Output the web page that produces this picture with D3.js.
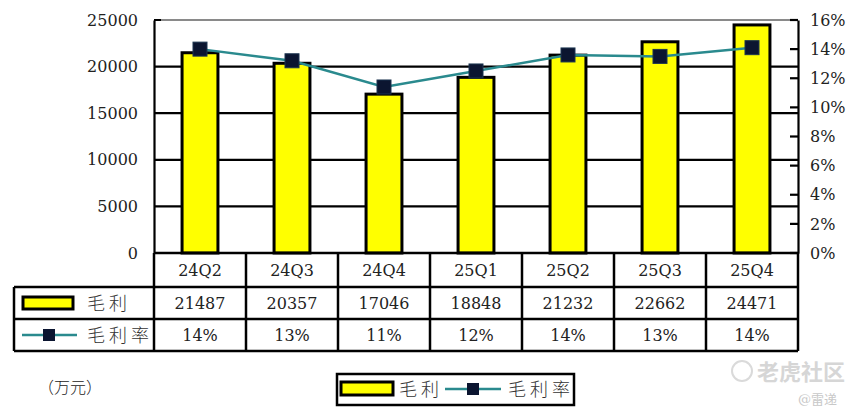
<!DOCTYPE html>
<html><head><meta charset="utf-8">
<script src="https://cdn.jsdelivr.net/npm/d3@7"></script>
<style>
html,body{margin:0;padding:0;background:#fff;}
text{font-family:"DejaVu Serif","Noto Sans CJK SC",serif;}
</style></head>
<body>
<svg id="c" width="858" height="420"></svg>
<script>
const categories = ["24Q2","24Q3","24Q4","25Q1","25Q2","25Q3","25Q4"];
const grossProfit = [21487,20357,17046,18848,21232,22662,24471];
const marginLabels = ["14%","13%","11%","12%","14%","13%","14%"];
const marginValues = [0.140,0.132,0.114,0.125,0.136,0.135,0.141];
const leftTicks = [0,5000,10000,15000,20000,25000];
const rightTicks = [0,0.02,0.04,0.06,0.08,0.10,0.12,0.14,0.16];
const seriesNames = ["毛利","毛利率"];
const unitLabel = "（万元）";

const numFont = "DejaVu Serif";
const svg = d3.select("#c");
const L = 154, R = 798, T = 20, B = 253;
const x = d3.scaleBand().domain(categories).range([L, R]).padding(0);
const yL = d3.scaleLinear().domain([0,25000]).range([B,T]);
const yR = d3.scaleLinear().domain([0,0.16]).range([B,T]);
const bw = x.bandwidth()*0.39;
const yellow = "#ffff00", teal = "#2a8a8e", mk = "#0b1530";

// gridlines
svg.append("g").selectAll("line").data(leftTicks.filter(d=>d>0)).join("line")
  .attr("x1",L).attr("x2",R).attr("y1",d=>yL(d)).attr("y2",d=>yL(d))
  .attr("stroke",d=>d===25000?"#8a8a8a":"#000").attr("stroke-width",d=>d===25000?2:2.2);
svg.append("line").attr("x1",L).attr("x2",L+7).attr("y1",yL(25000)).attr("y2",yL(25000)).attr("stroke","#000").attr("stroke-width",2);

// left axis
const gl = svg.append("g").attr("transform",`translate(${L},0)`)
  .call(d3.axisLeft(yL).tickValues(leftTicks).tickSize(0).tickPadding(16).tickFormat(d3.format("d")));
gl.select(".domain").attr("stroke","#000").attr("stroke-width",2.2);
gl.selectAll("text").attr("font-size",16).attr("fill","#222").attr("font-family",numFont);

// right axis
const gr = svg.append("g").attr("transform",`translate(${R},0)`)
  .call(d3.axisRight(yR).tickValues(rightTicks).tickSize(0).tickPadding(12).tickFormat(d3.format(".0%")));
gr.select(".domain").attr("stroke","#000").attr("stroke-width",2.2);
gr.selectAll("text").attr("font-size",16).attr("fill","#222").attr("font-family",numFont);
svg.append("g").selectAll("line").data(rightTicks).join("line")
  .attr("x1",R-8).attr("x2",R).attr("y1",d=>yR(d)).attr("y2",d=>yR(d)).attr("stroke","#000").attr("stroke-width",2.2);

// bars
svg.append("g").selectAll("rect").data(grossProfit).join("rect")
  .attr("x",(d,i)=>x(categories[i])+x.bandwidth()/2-bw/2).attr("width",bw)
  .attr("y",d=>yL(d)).attr("height",d=>B-yL(d))
  .attr("fill",yellow).attr("stroke","#000").attr("stroke-width",3);

// line
const line = d3.line().x((d,i)=>x(categories[i])+x.bandwidth()/2).y(d=>yR(d));
svg.append("path").datum(marginValues).attr("d",line).attr("fill","none").attr("stroke",teal).attr("stroke-width",2.5);
svg.append("g").selectAll("rect").data(marginValues).join("rect")
  .attr("x",(d,i)=>x(categories[i])+x.bandwidth()/2-7).attr("y",d=>yR(d)-7)
  .attr("width",14).attr("height",14).attr("fill",mk).attr("stroke","#1c3550").attr("stroke-width",1);

// table
const tb = svg.append("g");
tb.append("line").attr("x1",L).attr("x2",R).attr("y1",B).attr("y2",B).attr("stroke","#000").attr("stroke-width",2.5);
[287,319,351].forEach(y=>tb.append("line").attr("x1",14).attr("x2",R).attr("y1",y).attr("y2",y).attr("stroke","#000").attr("stroke-width",2.5));
const vx = categories.map(c=>x(c)).concat([R]);
tb.selectAll("line.v").data(vx).join("line").attr("class","v")
  .attr("x1",d=>d).attr("x2",d=>d).attr("y1",B).attr("y2",351).attr("stroke","#000").attr("stroke-width",2.5);
tb.append("line").attr("x1",14).attr("x2",14).attr("y1",287).attr("y2",351).attr("stroke","#000").attr("stroke-width",2.5);

const cx = c=>x(c)+x.bandwidth()/2;
tb.selectAll("text.cat").data(categories).join("text").attr("class","cat")
  .attr("x",cx).attr("y",276).attr("text-anchor","middle").attr("font-size",16).attr("fill","#222").attr("font-family",numFont).text(d=>d);
tb.selectAll("text.val").data(grossProfit).join("text").attr("class","val")
  .attr("x",(d,i)=>cx(categories[i])).attr("y",309).attr("text-anchor","middle").attr("font-size",16).attr("fill","#222").attr("font-family",numFont).text(d=>d);
tb.selectAll("text.pct").data(marginLabels).join("text").attr("class","pct")
  .attr("x",(d,i)=>cx(categories[i])).attr("y",341).attr("text-anchor","middle").attr("font-size",16).attr("fill","#222").attr("font-family",numFont).text(d=>d);

// table legend keys
tb.append("rect").attr("x",23).attr("y",297).attr("width",50).attr("height",12).attr("fill",yellow).attr("stroke","#000").attr("stroke-width",3);
tb.append("text").attr("x",87).attr("y",310).attr("font-size",18).attr("fill","#333").attr("font-family","Noto Sans CJK SC").attr("font-weight",300).attr("letter-spacing",4).text(seriesNames[0]);
tb.append("line").attr("x1",22).attr("x2",77).attr("y1",335).attr("y2",335).attr("stroke",teal).attr("stroke-width",2.5);
tb.append("rect").attr("x",43).attr("y",329).attr("width",12).attr("height",12).attr("fill",mk);
tb.append("text").attr("x",87).attr("y",342).attr("font-size",18).attr("fill","#333").attr("font-family","Noto Sans CJK SC").attr("font-weight",300).attr("letter-spacing",4).text(seriesNames[1]);

// unit
svg.append("text").attr("x",38).attr("y",393).attr("font-size",16).attr("fill","#222").attr("font-family","Noto Sans CJK SC").attr("font-weight",300).text(unitLabel);

// bottom legend
const lg = svg.append("g");
lg.append("rect").attr("x",337).attr("y",374).attr("width",237).attr("height",31).attr("fill","#fff").attr("stroke","#000").attr("stroke-width",2.5);
lg.append("rect").attr("x",341).attr("y",382).attr("width",52).attr("height",13).attr("fill",yellow).attr("stroke","#000").attr("stroke-width",3);
lg.append("text").attr("x",399).attr("y",396).attr("font-size",18).attr("fill","#333").attr("font-family","Noto Sans CJK SC").attr("font-weight",300).attr("letter-spacing",4).text(seriesNames[0]);
lg.append("line").attr("x1",445).attr("x2",501).attr("y1",389).attr("y2",389).attr("stroke",teal).attr("stroke-width",2.5);
lg.append("rect").attr("x",467).attr("y",383).attr("width",12).attr("height",12).attr("fill",mk);
lg.append("text").attr("x",508).attr("y",396).attr("font-size",18).attr("fill","#333").attr("font-family","Noto Sans CJK SC").attr("font-weight",300).attr("letter-spacing",4).text(seriesNames[1]);

// watermark
svg.append("circle").attr("cx",742).attr("cy",371).attr("r",10).attr("fill","none").attr("stroke","#dadada").attr("stroke-width",2);
svg.append("text").attr("x",757).attr("y",380).attr("font-size",22).attr("fill","#d6d6d6").attr("font-family","Noto Sans CJK SC").attr("font-weight","bold").text("老虎社区");
svg.append("text").attr("x",798).attr("y",404).attr("font-size",13).attr("fill","#c8c8c8").attr("font-family","Noto Sans CJK SC").text("@雷递");
</script>
</body></html>
